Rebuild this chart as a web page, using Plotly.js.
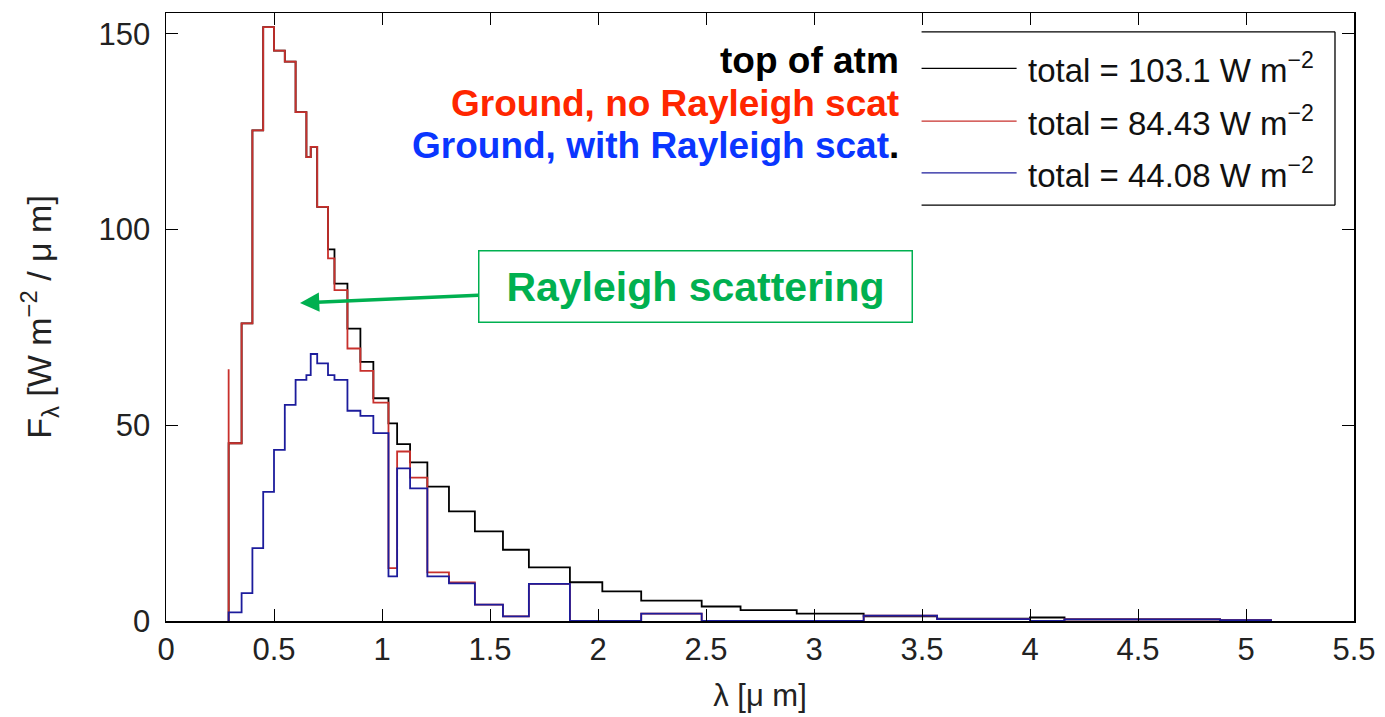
<!DOCTYPE html>
<html>
<head>
<meta charset="utf-8">
<script src="https://cdn.plot.ly/plotly-3.0.1.min.js"></script>
<style>
html,body{margin:0;padding:0;background:#fff;}
#chart{width:1385px;height:717px;}
</style>
</head>
<body>
<div id="chart"></div>
<script>
// Bin edges (µm) shared by the three spectra
const edges = [0.29, 0.35, 0.40, 0.45, 0.50, 0.55, 0.60, 0.65, 0.67, 0.70, 0.75, 0.78, 0.84, 0.90, 0.96, 1.03, 1.07, 1.13, 1.21, 1.31, 1.43, 1.56, 1.68, 1.87, 2.02, 2.20, 2.48, 2.66, 2.92, 3.23, 3.57, 4.00, 4.16, 4.88, 5.12];
// F_lambda per bin (W m^-2 / µm)
const topAtm = [45.4, 76.0, 125.3, 151.7, 145.7, 142.9, 130.0, 118.5, 121.1, 105.8, 94.9, 86.2, 74.7, 66.2, 56.9, 50.5, 45.2, 40.5, 34.3, 28.0, 22.9, 18.2, 13.7, 9.9, 7.55, 5.2, 3.7, 2.8, 1.86, 1.2, 0.6, 0.9, 0.4, 0.15];
const groundNoRayleigh = [45.4, 76.0, 125.3, 151.7, 145.7, 142.9, 130.0, 118.5, 121.1, 105.8, 92.6, 84.5, 69.6, 63.9, 55.8, 13.5, 43.3, 36.6, 12.4, 9.85, 4.2, 1.2, 9.5, 0, 0, 1.86, 0, 0, 0, 1.35, 0.5, 0, 0.4, 0.2];
const groundRayleigh = [2.2, 7.1, 18.6, 33.0, 43.7, 55.2, 61.6, 62.8, 68.2, 65.8, 62.8, 61.6, 53.7, 52.4, 48.0, 11.4, 39.0, 33.9, 11.4, 9.6, 4.2, 1.2, 9.5, 0, 0, 1.86, 0, 0, 0, 1.35, 0.5, 0, 0.4, 0.2];
const groundNoRayleighLead = 64.3;

const seriesNames = ['top of atm', 'Ground, no Rayleigh scat', 'Ground, with Rayleigh scat'];
const legendLabels = ['total = 103.1 W m<sup>\u22122</sup>', 'total = 84.43 W m<sup>\u22122</sup>', 'total = 44.08 W m<sup>\u22122</sup>'];
const xTicks = [0, 0.5, 1, 1.5, 2, 2.5, 3, 3.5, 4, 4.5, 5, 5.5];
const yTicks = [0, 50, 100, 150];

function stairs(e, v, lead) {
  const x = [e[0]], y = [0];
  if (lead !== undefined) { x.push(e[0]); y.push(lead); }
  for (let i = 0; i < v.length; i++) { x.push(e[i]); y.push(v[i]); }
  x.push(e[e.length - 1]); y.push(v[v.length - 1]);
  return {x, y};
}

const lineColors = ['#000000', '#c8302c', '#1c1c9c'];
const s0 = stairs(edges, topAtm);
const s1 = stairs(edges, groundNoRayleigh, groundNoRayleighLead);
const s2 = stairs(edges, groundRayleigh);
const traces = [s0, s1, s2].map((s, i) => ({
  x: s.x, y: s.y, type: 'scatter', mode: 'lines', name: seriesNames[i],
  line: {shape: 'hv', color: lineColors[i], width: 1.8}, showlegend: false, hoverinfo: 'skip'
}));

const FONT = 'Liberation Sans, Arial, sans-serif';
const textColors = ['#000000', '#ff2600', '#0a36ff'];

// manual legend (paper coordinates)
const legRows = [0.909, 0.822, 0.737];
const shapes = [
  {type:'line', xref:'paper', yref:'paper', x0:0.636, x1:0.984, y0:0.969, y1:0.969, line:{color:'#000', width:1.3}},
  {type:'line', xref:'paper', yref:'paper', x0:0.984, x1:0.984, y0:0.969, y1:0.684, line:{color:'#000', width:1.3}},
  {type:'line', xref:'paper', yref:'paper', x0:0.636, x1:0.984, y0:0.684, y1:0.684, line:{color:'#000', width:1.3}}
];
legRows.forEach((r, i) => {
  shapes.push({type:'line', xref:'paper', yref:'paper', x0:0.636, x1:0.716, y0:r, y1:r, line:{color: lineColors[i], width:1.3}});
});
const annotations = legRows.map((r, i) => ({
  xref:'paper', yref:'paper', x:0.724, y:r, xanchor:'left', yanchor:'middle',
  text: legendLabels[i], showarrow:false, font:{family:FONT, size:33, color:'#111'}
}));
const labelRows = [0.922, 0.851, 0.782];
labelRows.forEach((r, i) => {
  let t = '<b>' + seriesNames[i] + '</b>';
  if (i === 2) t = '<b>' + seriesNames[i] + '<span style="color:#000">.</span></b>';
  annotations.push({xref:'paper', yref:'paper', x:0.619, y:r, xanchor:'right', yanchor:'middle',
    text: t, showarrow:false, font:{family:FONT, size:37, color:textColors[i]}});
});
// Rayleigh scattering callout
annotations.push({
  xref:'paper', yref:'paper', x:0.1128, y:0.523, text:'<b>Rayleigh scattering</b>',
  showarrow:true, ax:395, ay:-17, axref:'pixel', ayref:'pixel',
  arrowhead:2, arrowsize:1.1, arrowwidth:3.5, arrowcolor:'#00b050',
  font:{family:FONT, size:41, color:'#00b050'}, bgcolor:'#fff',
  bordercolor:'#00b050', borderwidth:1.5, borderpad:0, width:432, height:70
});

const layout = {
  width:1385, height:717,
  margin:{l:166, r:31, t:13, b:96},
  paper_bgcolor:'#fff', plot_bgcolor:'#fff',
  font:{family:FONT, size:30, color:'#222'},
  xaxis:{range:[0,5.5], tickvals:xTicks, ticktext:xTicks.map(String), ticks:'inside', ticklen:12, tickcolor:'#000',
    showline:true, linecolor:'#000', linewidth:1.5, mirror:'ticks', showgrid:false, zeroline:false,
    tickfont:{family:FONT, size:31, color:'#222'},
    title:{text:'\u03bb [\u03bc m]', font:{family:FONT, size:31, color:'#222'}, standoff:18}},
  yaxis:{range:[0,155.3], tickvals:yTicks, ticks:'inside', ticklen:12, tickcolor:'#000',
    showline:true, linecolor:'#000', linewidth:1.5, mirror:'ticks', showgrid:false, zeroline:false,
    tickfont:{family:FONT, size:31, color:'#222'}, ticklabelstandoff:8,
    title:{text:'F<sub>\u03bb</sub> [W m<sup>\u22122</sup> / \u03bc m]', font:{family:FONT, size:34, color:'#222'}, standoff:36}},
  shapes: shapes,
  annotations: annotations
};

Plotly.newPlot('chart', traces, layout, {displayModeBar:false, staticPlot:true});
</script>
</body>
</html>
